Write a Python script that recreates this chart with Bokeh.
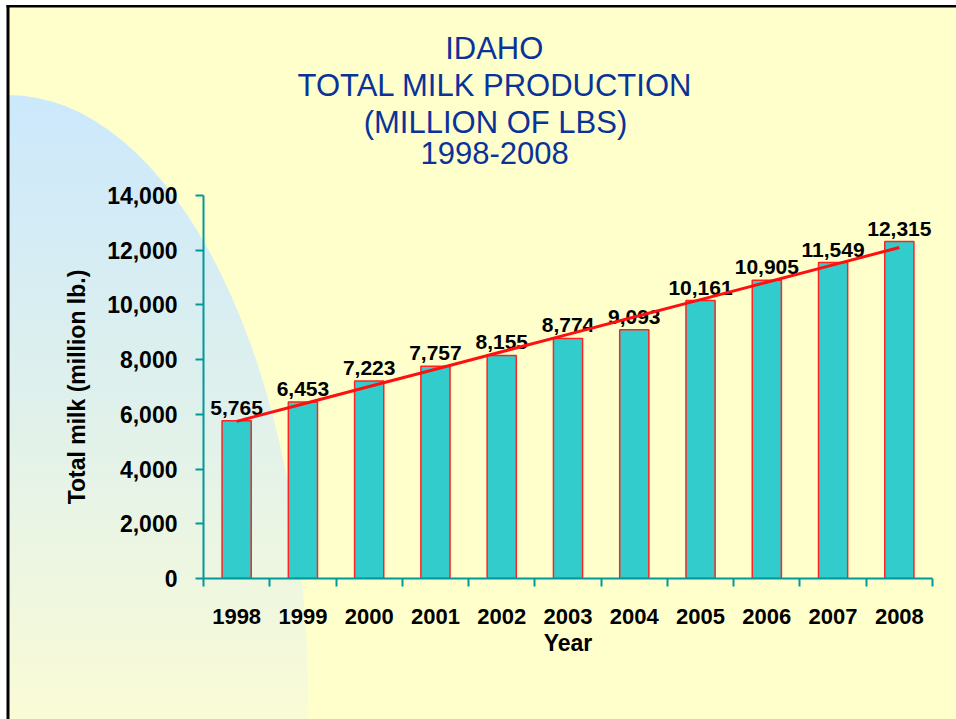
import urllib.parse
import numpy as np
from bokeh.plotting import figure
from bokeh.models import Range1d, FixedTicker, NumeralTickFormatter, Title
from bokeh.core.properties import value
from bokeh.embed import file_html
from bokeh.resources import INLINE

# ---------------- data ----------------
years = ["1998", "1999", "2000", "2001", "2002", "2003", "2004", "2005", "2006", "2007", "2008"]
milk = [5765, 6453, 7223, 7757, 8155, 8774, 9093, 10161, 10905, 11549, 12315]
milk_labels = ["5,765", "6,453", "7,223", "7,757", "8,155", "8,774", "9,093",
               "10,161", "10,905", "11,549", "12,315"]
y_ticks = [0, 2000, 4000, 6000, 8000, 10000, 12000, 14000]
title_lines = ["IDAHO", "TOTAL MILK PRODUCTION", "(MILLION OF LBS)", "1998-2008"]

FONT = "Liberation Sans"
TEAL = "#009999"

n = len(years)
xc = [i + 0.5 for i in range(n)]
idx = np.arange(n)
slope, icpt = np.polyfit(idx, np.array(milk, dtype=float), 1)
trend = list(icpt + slope * idx)

W, H = 956, 719
ML, MR, MT, MB = 203, 24, 195, 141

# decorative page background (yellow, light-blue curved panel, black border) as CSS
bg_svg = (
    "<svg xmlns='http://www.w3.org/2000/svg' width='956' height='719'>"
    "<defs><linearGradient id='g' x1='0' y1='95' x2='0' y2='719' gradientUnits='userSpaceOnUse'>"
    "<stop offset='0' stop-color='#CCE8FC'/>"
    "<stop offset='0.45' stop-color='#DDF0EE'/>"
    "<stop offset='1' stop-color='#FAFBD6'/>"
    "</linearGradient></defs>"
    "<rect width='956' height='719' fill='#FFFFCC'/>"
    "<ellipse cx='8' cy='700' rx='300' ry='605' fill='url(#g)'/>"
    "<rect x='0' y='0' width='7' height='719' fill='white'/>"
    "<rect x='0' y='0' width='956' height='5' fill='white'/>"
    "<rect x='6.5' y='5' width='3' height='714' fill='black'/>"
    "<rect x='6.5' y='5' width='950' height='2.5' fill='black'/>"
    "</svg>"
)
bg_uri = "data:image/svg+xml," + urllib.parse.quote(bg_svg)

p = figure(width=W, height=H, output_backend="svg", toolbar_location=None,
           x_range=Range1d(0, n), y_range=Range1d(0, 14000),
           min_border_left=ML, min_border_right=MR, min_border_top=MT, min_border_bottom=MB,
           background_fill_color=None, border_fill_color=None,
           outline_line_color=None)
p.styles = {"background-image": 'url("%s")' % bg_uri,
            "background-size": "956px 719px",
            "background-repeat": "no-repeat"}
p.grid.visible = False

# --- title: four lines, each centred at x=493 px ---
# approximate Arial/Liberation Sans advance widths (per 1000 em) to centre each line
AW = {" ": 278, "(": 333, ")": 333, "-": 333, "A": 667, "B": 667, "C": 722, "D": 722,
      "F": 611, "H": 722, "I": 278, "K": 667, "L": 556, "M": 833, "N": 722, "O": 778,
      "P": 667, "R": 722, "S": 667, "T": 611, "U": 722}
TSIZE = 31
TITLE_CX = 493 - ML   # centre relative to frame left


def title_offset(s):
    w = sum(AW.get(c, 556) for c in s) / 1000.0 * TSIZE * 0.985
    return TITLE_CX - w / 2.0


def style_title(t, txt):
    t.text = txt
    t.align = "left"
    t.offset = title_offset(txt)
    t.text_font = FONT
    t.text_font_style = "normal"
    t.text_font_size = "%dpx" % TSIZE
    t.text_color = "#0A3399"
    t.standoff = 0


# p.title ends up outermost; extra "above" titles stack outward from the frame
style_title(p.title, title_lines[0])
# blank spacer line between the title block and the plot area
spacer = Title(text=" ", text_font=FONT, text_font_size="27px", standoff=0)
p.add_layout(spacer, "above")
for line in reversed(title_lines[1:]):
    t = Title()
    style_title(t, line)
    p.add_layout(t, "above")

# --- bars ---
p.vbar(x=xc, top=milk, width=0.44, fill_color="#33CCCC", line_color="#FF2222", line_width=1.5)

# --- value labels ---
p.text(x=xc, y=milk, text=milk_labels, text_align="center", text_baseline="bottom",
       y_offset=-6, text_font=value(FONT), text_font_style="bold",
       text_font_size="21px", text_color="black")

# --- trend line ---
p.line(x=xc, y=trend, line_color="#FF1010", line_width=3)

# --- axes ---
yax = p.yaxis[0]
yax.ticker = FixedTicker(ticks=y_ticks)
yax.formatter = NumeralTickFormatter(format="0,0")
yax.axis_line_color = TEAL
yax.axis_line_width = 2
yax.major_tick_line_color = TEAL
yax.major_tick_line_width = 2
yax.major_tick_in = 0
yax.major_tick_out = 8
yax.minor_tick_line_color = None
yax.major_label_text_font = FONT
yax.major_label_text_font_style = "bold"
yax.major_label_text_font_size = "23px"
yax.major_label_text_color = "black"
yax.major_label_standoff = 18
yax.axis_label = "Total milk (million lb.)"
yax.axis_label_text_font = FONT
yax.axis_label_text_font_style = "bold"
yax.axis_label_text_font_size = "23px"
yax.axis_label_text_color = "black"
yax.axis_label_standoff = 14

xax = p.xaxis[0]
xax.ticker = FixedTicker(ticks=xc, minor_ticks=list(range(n + 1)))
xax.major_label_overrides = {x: y for x, y in zip(xc, years)}
xax.axis_line_color = TEAL
xax.axis_line_width = 2
xax.major_tick_line_color = None
xax.major_tick_in = 0
xax.major_tick_out = 0
xax.minor_tick_line_color = TEAL
xax.minor_tick_line_width = 2
xax.minor_tick_in = 0
xax.minor_tick_out = 8
xax.major_label_text_font = FONT
xax.major_label_text_font_style = "bold"
xax.major_label_text_font_size = "22px"
xax.major_label_text_color = "black"
xax.major_label_standoff = 22
xax.axis_label = "Year"
xax.axis_label_text_font = FONT
xax.axis_label_text_font_style = "bold"
xax.axis_label_text_font_size = "23px"
xax.axis_label_text_color = "black"
xax.axis_label_standoff = 3

open("out.html", "w").write(file_html(p, INLINE))
